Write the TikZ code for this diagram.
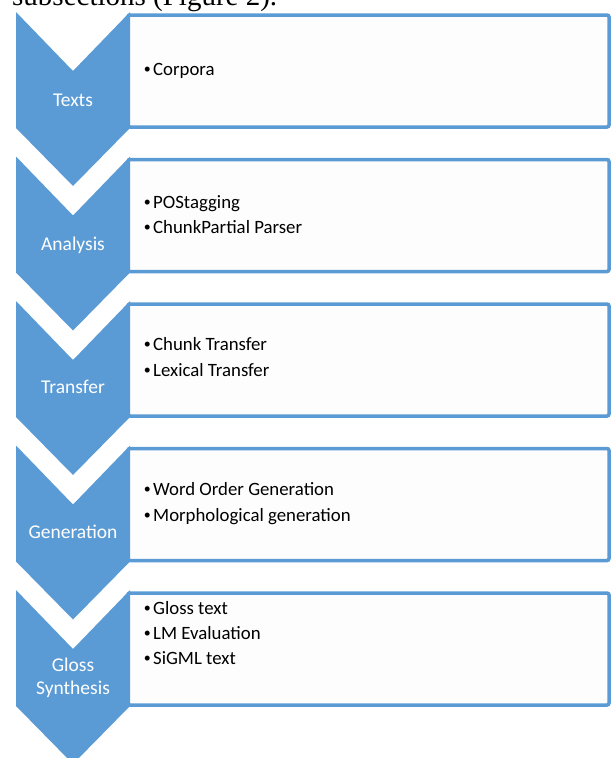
\documentclass[tikz,border=0pt]{standalone}
\usepackage{fontspec}
\setmainfont{Carlito}
\newfontfamily\bodyserif{Liberation Serif}
\definecolor{stageblue}{RGB}{91,155,213}
\definecolor{panelfill}{RGB}{253,253,253}
\newcommand\itemdot{\llap{\raisebox{1.9pt}{\fontsize{14}{14}\selectfont\textbullet}\hspace{2.4pt}}}
\begin{document}
\begin{tikzpicture}[x=1pt,y=-1pt,
  chevron/.style={fill=stageblue, draw=none},
  panel/.style={draw=stageblue, line width=3.5pt, fill=panelfill, rounded corners=2pt},
  stagelabel/.style={text=white, font=\fontsize{19.5}{23}\selectfont, inner sep=0pt, anchor=base},
  itemline/.style={font=\fontsize{18.8}{25}\selectfont, inner sep=0pt, anchor=base west},
]
\useasboundingbox (0,0) rectangle (611,758);
\clip (0,0) rectangle (611,758);

% running text above the figure
\node[font=\bodyserif\fontsize{29}{30}\selectfont, anchor=base west, inner sep=0pt]
  (caption) at (12,5) {subsections (Figure 2).};

% panels and chevrons, one pair per stage
\foreach \i in {0,...,4} {
  \pgfmathsetmacro\t{12+144.5*\i}
  \path[panel] (128,\t+3) rectangle (609,\t+115);
  \path[chevron] (16,\t) -- (73,\t+59) -- (130,\t) -- (130,\t+116)
    -- (73,\t+174) -- (16,\t+116) -- cycle;
}

% stage names
\node[stagelabel] (texts)      at (73,106)   {Texts};
\node[stagelabel] (analysis)   at (73,250)   {Analysis};
\node[stagelabel] (transfer)   at (73,393)   {Transfer};
\node[stagelabel] (generation) at (73,538)   {Generation};
\node[stagelabel] (gloss)      at (73,671)   {Gloss};
\node[stagelabel] (synthesis)  at (73,694)   {Synthesis};

% bullet items in the panels
\node[itemline] (corpora) at (153,75)  {\itemdot Corpora};
\node[itemline] (pos)     at (153,208) {\itemdot POStagging};
\node[itemline] (chunkp)  at (153,233) {\itemdot ChunkPartial Parser};
\node[itemline] (chunkt)  at (153,350) {\itemdot Chunk Transfer};
\node[itemline] (lext)    at (153,376) {\itemdot Lexical Transfer};
\node[itemline] (wordord) at (153,495) {\itemdot Word Order Generation};
\node[itemline] (morph)   at (153,521) {\itemdot Morphological generation};
\node[itemline] (glosst)  at (153,614) {\itemdot Gloss text};
\node[itemline] (lmeval)  at (153,639) {\itemdot LM Evaluation};
\node[itemline] (sigml)   at (153,664) {\itemdot SiGML text};
\end{tikzpicture}
\end{document}
